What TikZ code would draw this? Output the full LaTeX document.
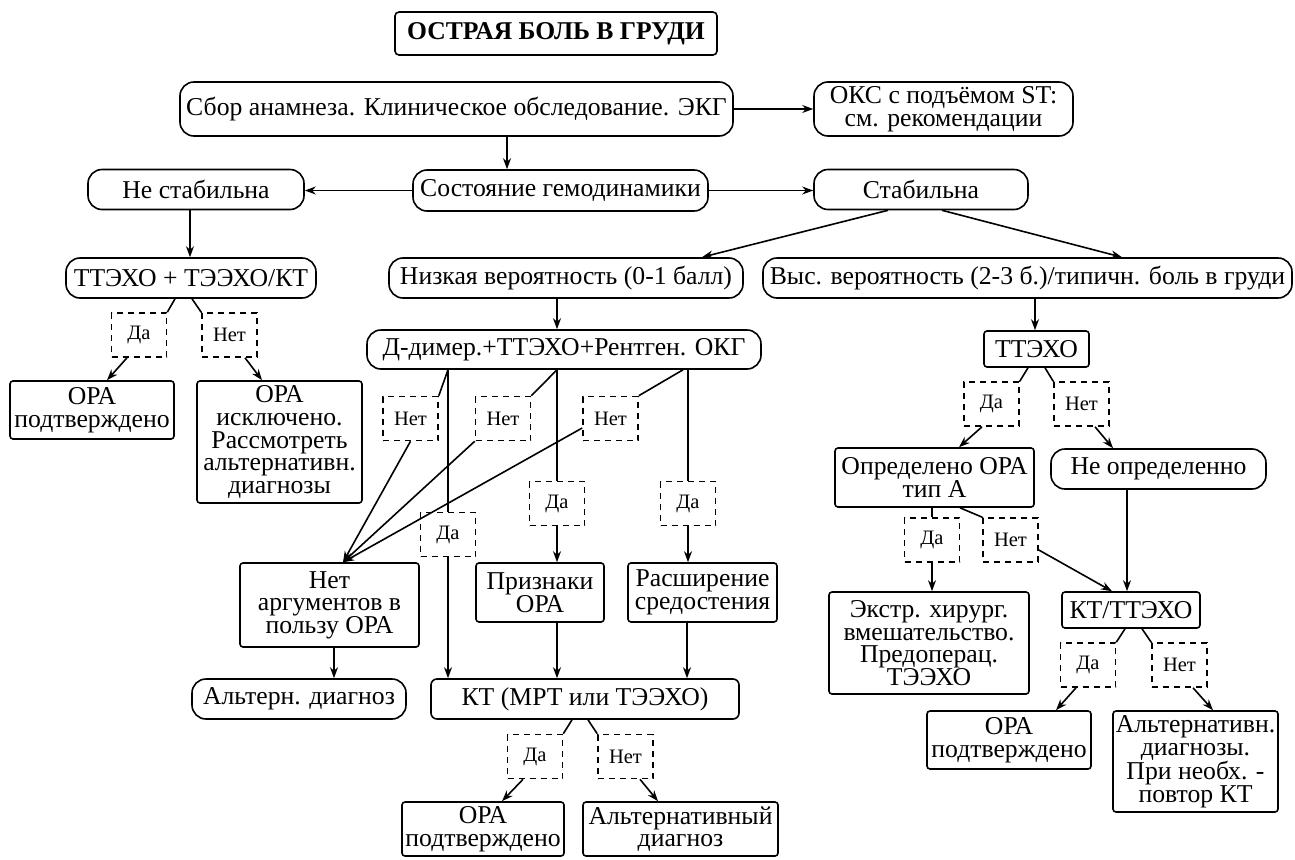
\documentclass[tikz,border=0pt]{standalone}
\usepackage{fontspec}
\setmainfont{Liberation Serif}
\usetikzlibrary{arrows.meta,calc}
\begin{document}
\begin{tikzpicture}[x=1pt,y=-1pt,
  every node/.style={inner sep=0pt, align=center, font=\fontsize{25.7}{22.6}\selectfont},
  rbox/.style={draw, line width=1.6pt, rounded corners=14pt},
  sbox/.style={draw, line width=1.6pt, rounded corners=3pt},
  dbox/.style={draw, line width=1.6pt, dash pattern=on 6pt off 5pt, font=\fontsize{20.5}{20.5}\selectfont, minimum width=55pt, minimum height=44pt},
  ln/.style={line width=1.6pt},
  arr/.style={line width=1.6pt, -{Stealth[length=11pt,width=8pt]}},
]
\useasboundingbox[fill=white] (0,0) rectangle (1295,859);

\node[sbox, rounded corners=4pt, minimum width=322pt, minimum height=43pt, font=\bfseries\fontsize{25.6}{25.6}\selectfont] (title) at (556,33.5) {ОСТРАЯ БОЛЬ В ГРУДИ};
\node[rbox, minimum width=553pt, minimum height=54pt] (sbor) at (456.5,109) {Сбор анамнеза. Клиническое обследование. ЭКГ};
\node[rbox, minimum width=259pt, minimum height=54pt] (oks) at (943.5,109) {ОКС с подъёмом ST:\\см. рекомендации};
\node[rbox, minimum width=295pt, minimum height=41pt] (sost) at (560.5,190.5) {Состояние гемодинамики};
\node[rbox, minimum width=216pt, minimum height=40pt] (nestab) at (196,189.5) {Не стабильна};
\node[rbox, minimum width=214pt, minimum height=40pt] (stab) at (921,189.5) {Стабильна};
\node[rbox, minimum width=250pt, minimum height=40pt] (tte) at (191,278) {ТТЭХО + ТЭЭХО/КТ};
\node[rbox, minimum width=354pt, minimum height=40pt] (low) at (566,278) {Низкая вероятность (0-1 балл)};
\node[rbox, minimum width=529pt, minimum height=40pt] (high) at (1027.5,278) {Выс. вероятность (2-3 б.)/типичн. боль в груди};

\node[dbox] (daL) at (139,335) {Да};
\node[dbox] (netL) at (229.5,335) {Нет};
\node[sbox, minimum width=164pt, minimum height=58pt] (oraL) at (92,410) {ОРА\\подтверждено};
\node[sbox, minimum width=165pt, minimum height=122pt] (isk) at (279.5,442) {ОРА\\исключено.\\Рассмотреть\\альтернативн.\\диагнозы};

\node[rbox, minimum width=394pt, minimum height=39pt] (ddim) at (564,349.5) {Д-димер.+ТТЭХО+Рентген. ОКГ};
\node[dbox] (net1) at (410.5,418.5) {Нет};
\node[dbox] (net2) at (503,418.5) {Нет};
\node[dbox] (net3) at (610.5,418.5) {Нет};
\node[dbox] (da1) at (448,534.5) {Да};
\node[dbox] (da2) at (557,503.5) {Да};
\node[dbox] (da3) at (688,503.5) {Да};
\node[sbox, minimum width=179pt, minimum height=84pt] (noarg) at (329.5,605) {Нет\\аргументов в\\пользу ОРА};
\node[sbox, minimum width=128pt, minimum height=59pt] (prizn) at (540,592.5) {Признаки\\ОРА};
\node[sbox, minimum width=149pt, minimum height=59pt] (rassh) at (702.5,592.5) {Расширение\\средостения};
\node[rbox, minimum width=214pt, minimum height=40pt] (altern) at (299,699) {Альтерн. диагноз};
\node[sbox, rounded corners=6pt, minimum width=308pt, minimum height=40pt] (kt) at (585,699) {КТ (МРТ или ТЭЭХО)};
\node[dbox] (da4) at (535,756.5) {Да};
\node[dbox] (net4) at (625.5,756.5) {Нет};
\node[sbox, minimum width=162pt, minimum height=54pt] (oraB) at (483,829) {ОРА\\подтверждено};
\node[sbox, minimum width=195pt, minimum height=54pt] (altB) at (680.5,829) {Альтернативный\\диагноз};

\node[sbox, minimum width=105pt, minimum height=36pt] (ttR) at (1036.5,349) {ТТЭХО};
\node[dbox] (da5) at (991.5,404) {Да};
\node[dbox] (net5) at (1081.5,404) {Нет};
\node[sbox, minimum width=199pt, minimum height=59pt] (opr) at (934.5,477.5) {Определено ОРА\\тип А};
\node[rbox, minimum width=215pt, minimum height=40pt] (neopr) at (1158.5,469) {Не определенно};
\node[dbox] (da6) at (932,540) {Да};
\node[dbox] (net6) at (1010.5,540) {Нет};
\node[sbox, minimum width=200pt, minimum height=102pt] (ekstr) at (929,643) {Экстр. хирург.\\вмешательство.\\Предоперац.\\ТЭЭХО};
\node[sbox, minimum width=138pt, minimum height=36pt] (kttt) at (1131,610) {КТ/ТТЭХО};
\node[dbox] (da7) at (1088,665) {Да};
\node[dbox] (net7) at (1179.5,665) {Нет};
\node[sbox, minimum width=164pt, minimum height=58pt] (oraR) at (1009,740) {ОРА\\подтверждено};
\node[sbox, minimum width=165pt, minimum height=101pt] (altR) at (1195.5,761.5) {Альтернативн.\\диагнозы.\\При необх. -\\повтор КТ};

% connectors
\draw[arr] (sbor.east) -- (oks.west);
\draw[arr] ([xshift=50.5pt]sbor.south) -- ([xshift=50.5pt]sbor.south |- sost.north);
\draw[arr] (sost.west) -- (sost.west -| nestab.east);
\draw[arr] (sost.east) -- (sost.east -| stab.west);
\draw[arr] ([xshift=-6pt]nestab.south) -- ([xshift=-6pt]nestab.south |- tte.north);
\draw[arr] ([xshift=-33pt]stab.south) -- ([xshift=136pt]low.north);
\draw[arr] ([xshift=21pt]stab.south) -- ([xshift=94.5pt]high.north);
\draw[ln] ([xshift=-16pt]tte.south) -- (daL.north east);
\draw[ln] ([xshift=1pt]tte.south) -- (netL.north west);
\draw[arr] ([xshift=-12pt]daL.south) -- ([xshift=15pt]oraL.north);
\draw[arr] ([xshift=15.5pt]netL.south) -- ([xshift=-17.5pt]isk.north);
\draw[arr] ([xshift=-9pt]low.south) -- ([xshift=-9pt]low.south |- ddim.north);
\draw[ln] (da1.north |- ddim.south) -- (net1.north east);
\draw[ln] (da1.north |- ddim.south) -- (da1.north);
\draw[arr] (da1.south) -- (da1.south |- kt.north);
\draw[arr] (net1.south) -- ([xshift=13.5pt]noarg.north);
\draw[ln] (da2.north |- ddim.south) -- (net2.north east);
\draw[arr] (net2.south west) -- ([xshift=13.5pt]noarg.north);
\draw[ln] (da2.north |- ddim.south) -- (da2.north);
\draw[arr] (da2.south) -- (da2.south |- prizn.north);
\draw[ln] ([xshift=119pt]ddim.south) -- (net3.north east);
\draw[arr] ([yshift=-9.5pt]net3.west) -- ([xshift=13.5pt]noarg.north);
\draw[ln] (da3.north |- ddim.south) -- (da3.north);
\draw[arr] (da3.south) -- (da3.south |- rassh.north);
\draw[arr] ([xshift=17pt]prizn.south) -- ([xshift=17pt]prizn.south |- kt.north);
\draw[arr] ([xshift=-15.5pt]rassh.south) -- ([xshift=-15.5pt]rassh.south |- kt.north);
\draw[arr] ([xshift=4.5pt]noarg.south) -- ([xshift=4.5pt]noarg.south |- altern.north);
\draw[ln] ([xshift=-13pt]kt.south) -- (da4.north east);
\draw[ln] ([xshift=3pt]kt.south) -- (net4.north west);
\draw[arr] ([xshift=-12pt]da4.south) -- ([xshift=19pt]oraB.north);
\draw[arr] ([xshift=14.5pt]net4.south) -- ([xshift=-22.5pt]altB.north);

\draw[arr] ([xshift=7.5pt]high.south) -- ([xshift=7.5pt]high.south |- ttR.north);
\draw[ln] ([xshift=-8.5pt]ttR.south) -- (da5.north east);
\draw[ln] ([xshift=8.5pt]ttR.south) -- (net5.north west);
\draw[arr] ([xshift=-9.5pt]da5.south) -- ([xshift=24.5pt]opr.north);
\draw[arr] ([xshift=13.5pt]net5.south) -- ([xshift=-45.5pt]neopr.north);
\draw[ln] (da6.north |- opr.south) -- (da6.north);
\draw[ln] ([xshift=25.5pt]opr.south) -- (net6.north west);
\draw[arr] (da6.south) -- (da6.south |- ekstr.north);
\draw[arr] ([yshift=-10pt]net6.east) -- ([xshift=-19pt]kttt.north);
\draw[arr] ([xshift=-31.5pt]neopr.south) -- ([xshift=-31.5pt]neopr.south |- kttt.north);
\draw[ln] ([xshift=-6pt]kttt.south) -- (da7.north east);
\draw[ln] ([xshift=11pt]kttt.south) -- (net7.north west);
\draw[arr] ([xshift=-12pt]da7.south) -- ([xshift=47pt]oraR.north);
\draw[arr] ([xshift=13.5pt]net7.south) -- ([xshift=17.5pt]altR.north);
\end{tikzpicture}
\end{document}
